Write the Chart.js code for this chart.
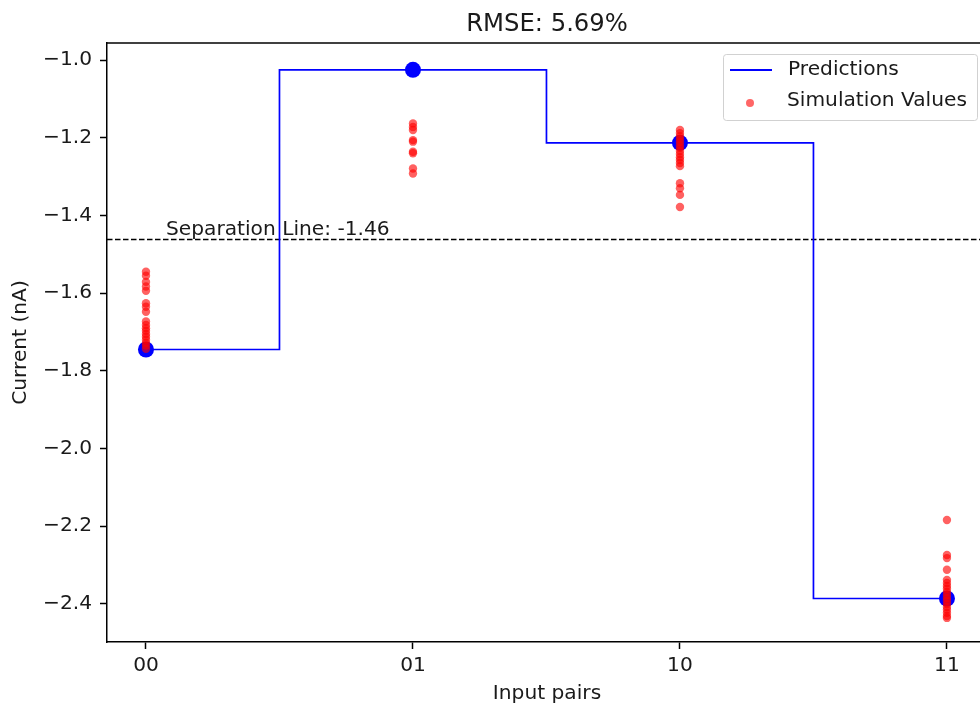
<!DOCTYPE html>
<html>
<head>
<meta charset="utf-8">
<script src="https://cdn.jsdelivr.net/npm/chart.js@4"></script>
<style>
    html, body { margin: 0; padding: 0; background: #fff; overflow: hidden; }
    #wrap { width: 1000px; height: 707px; }
</style>
</head>
<body>
<div id="wrap"><canvas id="chart" width="1000" height="707"></canvas></div>
<script>
const categories  = ['00', '01', '10', '11'];
const predictions = [-1.745, -1.025, -1.213, -2.386];
const yTicks      = [-1.0, -1.2, -1.4, -1.6, -1.8, -2.0, -2.2, -2.4];
const separation  = -1.46;
const rmse        = '5.69%';

// simulation values, one list per input pair
const sim00 = [-1.545, -1.555, -1.571, -1.583, -1.594, -1.626, -1.635, -1.648, -1.673, -1.682,
               -1.690, -1.697, -1.705, -1.712, -1.720, -1.728, -1.735, -1.743];
const sim01 = [-1.163, -1.172, -1.180, -1.206, -1.210, -1.236, -1.240, -1.279, -1.292];
const sim10 = [-1.180, -1.188, -1.196, -1.203, -1.211, -1.219, -1.226, -1.234, -1.242, -1.250,
               -1.257, -1.265, -1.273, -1.317, -1.330, -1.347, -1.378];
const sim11 = [-2.184, -2.274, -2.282, -2.312, -2.338, -2.346, -2.354, -2.361, -2.369, -2.377,
               -2.385, -2.392, -2.400, -2.408, -2.415, -2.423, -2.431, -2.436];
const simulations = [sim00, sim01, sim10, sim11];

const FONT = 'DejaVu Sans';
const FS   = 20.2;
const TXT  = '#1a1a1a';
const predPoints = predictions.map((v, i) => ({ x: i, y: v }));
const simPoints  = simulations.flatMap((vals, i) => vals.map(v => ({ x: i, y: v })));

// title, top spine, separation line + label, matplotlib-style legend
const extras = {
    id: 'extras',
    beforeDatasetsDraw(chart) {
        const { ctx, chartArea: a, scales: { y } } = chart;
        const py = Math.round(y.getPixelForValue(separation)) + 0.5;
        ctx.save();
        ctx.strokeStyle = '#000';
        ctx.lineWidth = 1.3;
        ctx.setLineDash([5.5, 2.5]);
        ctx.beginPath();
        ctx.moveTo(a.left, py);
        ctx.lineTo(a.right, py);
        ctx.stroke();
        ctx.restore();
    },
    afterDraw(chart) {
        const { ctx, chartArea: a, scales: { x, y } } = chart;
        ctx.save();
        ctx.strokeStyle = '#000';
        ctx.lineWidth = 1.5;
        ctx.beginPath();
        ctx.moveTo(a.left, a.top);
        ctx.lineTo(a.right, a.top);
        ctx.stroke();

        ctx.fillStyle = TXT;
        ctx.font = `24.3px "${FONT}"`;
        ctx.textAlign = 'center';
        ctx.textBaseline = 'alphabetic';
        ctx.fillText(`RMSE: ${rmse}`, (a.left + a.right) / 2, 31);

        ctx.font = `${FS}px "${FONT}"`;
        ctx.textAlign = 'left';
        ctx.fillText(`Separation Line: ${separation.toFixed(2)}`,
            x.getPixelForValue(0.075), y.getPixelForValue(separation + 0.011));

        // legend
        const bx = 723, by = 54, bw = 254, bh = 66;
        ctx.fillStyle = 'rgba(255,255,255,0.8)';
        ctx.strokeStyle = 'rgba(204,204,204,0.9)';
        ctx.lineWidth = 1;
        ctx.beginPath();
        ctx.roundRect(bx + 0.5, by + 0.5, bw, bh, 3);
        ctx.fill();
        ctx.stroke();

        ctx.strokeStyle = '#0000ff';
        ctx.lineWidth = 1.8;
        ctx.beginPath();
        ctx.moveTo(730, 70);
        ctx.lineTo(772, 70);
        ctx.stroke();

        ctx.fillStyle = 'rgba(255,0,0,0.6)';
        ctx.beginPath();
        ctx.arc(750, 103, 4, 0, Math.PI * 2);
        ctx.fill();

        ctx.fillStyle = TXT;
        ctx.textBaseline = 'middle';
        ctx.fillText('Predictions', 788, 70);
        ctx.fillText('Simulation Values', 787, 101);
        ctx.restore();
    },
};

new Chart(document.getElementById('chart'), {
    type: 'scatter',
    data: {
        datasets: [
            {
                type: 'line',
                label: 'Predictions',
                data: predPoints,
                stepped: 'middle',
                borderColor: '#0000ff',
                borderWidth: 1.7,
                pointRadius: 0,
                fill: false,
                order: 3,
            },
            {
                label: 'Prediction points',
                data: predPoints,
                backgroundColor: '#0000ff',
                borderWidth: 0,
                pointRadius: 8,
                order: 2,
            },
            {
                label: 'Simulation Values',
                data: simPoints,
                backgroundColor: 'rgba(255,0,0,0.62)',
                borderWidth: 0,
                pointRadius: 4.2,
                order: 1,
            },
        ],
    },
    options: {
        responsive: false,
        animation: false,
        devicePixelRatio: 1,
        layout: { padding: { top: 43, right: 13, left: 0, bottom: 0 } },
        plugins: {
            legend: { display: false },
            tooltip: { enabled: false },
            title: { display: false },
        },
        scales: {
            x: {
                type: 'linear',
                min: -0.146,
                max: 3.15,
                afterFit: s => { s.height = 65; },
                afterBuildTicks: s => { s.ticks = categories.map((_, i) => ({ value: i })); },
                grid: { drawOnChartArea: false, tickLength: 7, tickColor: '#000', tickWidth: 1.5 },
                border: { color: '#000', width: 1.5 },
                ticks: {
                    color: TXT,
                    padding: 5,
                    maxRotation: 0,
                    font: { family: FONT, size: FS },
                    callback: v => categories[v],
                },
                title: {
                    display: true,
                    text: 'Input pairs',
                    color: TXT,
                    font: { family: FONT, size: FS },
                    padding: { top: 0, bottom: 1 },
                },
            },
            y: {
                type: 'linear',
                min: -2.498,
                max: -0.956,
                afterFit: s => { s.width = 107; },
                afterBuildTicks: s => { s.ticks = yTicks.map(v => ({ value: v })); },
                grid: { drawOnChartArea: false, tickLength: 7, tickColor: '#000', tickWidth: 1.5 },
                border: { color: '#000', width: 1.5 },
                ticks: {
                    color: TXT,
                    padding: 8,
                    font: { family: FONT, size: FS },
                    callback: v => '\u2212' + Math.abs(v).toFixed(1),
                },
                title: {
                    display: true,
                    text: 'Current (nA)',
                    color: TXT,
                    font: { family: FONT, size: FS },
                    padding: { top: 9, bottom: 0 },
                },
            },
        },
    },
    plugins: [extras],
});
</script>
</body>
</html>
